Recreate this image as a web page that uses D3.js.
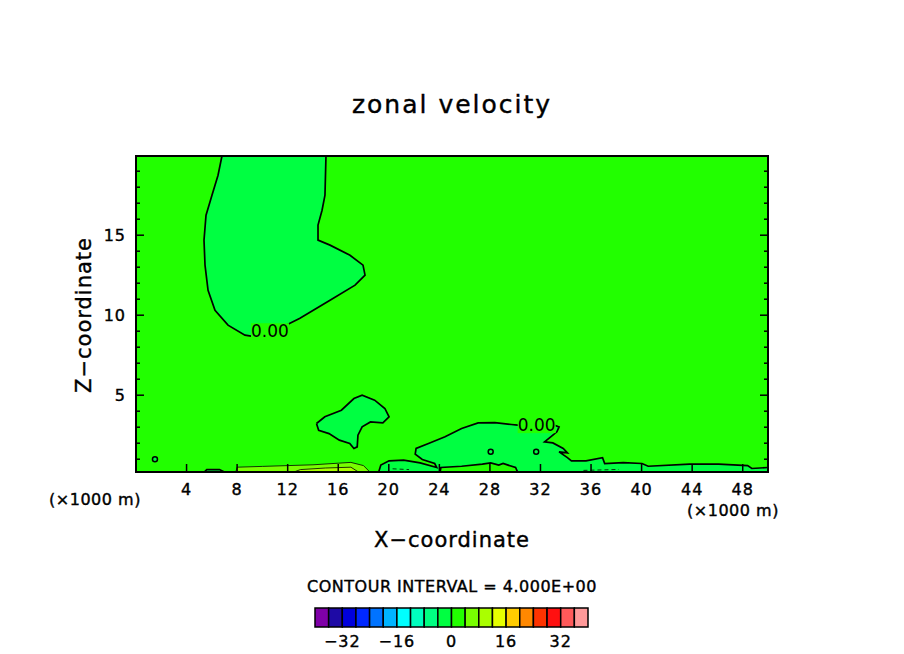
<!DOCTYPE html><html><head><meta charset="utf-8"><script src="https://cdn.jsdelivr.net/npm/d3@7"></script>
<style>body{margin:0;background:#fff}text{font-family:"DejaVu Sans",sans-serif}</style></head><body><svg id="c" width="904" height="654"></svg>
<script>
const xTicks=[4,8,12,16,20,24,28,32,36,40,44,48];
const zTicks=[5,10,15];
const barLevels=d3.range(-40,41,4);
const barColors=["#7f00a8","#1e0aa5","#0000dc","#0028ff","#0073ff","#00b4ff","#00ffff","#00ffbe","#00ff82","#00ff41","#22ff00","#78ff00","#aaff00","#e6ff00","#ffcc00","#ff8800","#ff3300","#ff1010","#ff5a5a","#ff9999"];
const barLabels=[-32,-16,0,16,32];
const upperBlob=[[6.8,19.95],[6.49,18.75],[6.01,17.5],[5.54,16.25],[5.38,14.69],[5.46,13.13],[5.7,11.56],[6.25,10.31],[7.28,9.38],[8.62,8.75],[9.65,8.63],[11.39,9.19],[12.97,9.81],[15.35,10.94],[17.33,11.88],[18.12,12.5],[17.96,13.13],[16.93,13.75],[15.35,14.38],[14.4,14.69],[14.4,15.63],[14.72,16.56],[14.95,17.5],[15.03,19.95]];
const horseshoe=[[14.28,3.23],[14.94,3.65],[16.25,4.06],[17.24,4.79],[17.89,5.0],[18.88,4.69],[19.69,4.17],[20.02,3.65],[19.53,3.27],[18.55,3.33],[17.89,3.02],[17.56,2.5],[17.5,1.77],[17.24,1.67],[16.91,1.98],[16.09,2.19],[15.27,2.6],[14.45,2.81],[14.28,3.23]];
const bottomBlob=[[19.2,0.2],[19.37,0.63],[20.02,0.9],[21.17,0.94],[22.48,0.77],[23.79,0.48],[23.63,0.73],[22.65,0.98],[22.09,1.31],[22.16,1.67],[23.14,1.98],[24.45,2.4],[25.76,2.92],[27.07,3.27],[28.39,3.29],[29.7,3.17],[30.2,3.13],[33.1,3.13],[33.47,3.02],[33.3,2.71],[32.81,2.4],[32.32,2.08],[32.98,2.02],[33.8,1.67],[34.13,1.4],[33.47,1.46],[34.13,1.1],[34.45,0.9],[35.6,0.9],[36.91,1.1],[37.08,0.73],[38.55,0.79],[40.03,0.73],[40.52,0.56],[43.8,0.69],[46.1,0.69],[48.39,0.6],[48.72,0.42],[50,0.48],[50,0.2]];
const innerHump=[[24.06,0.2],[24.12,0.48],[25.76,0.56],[27.4,0.69],[28.06,0.77],[28.7,0.63],[29.04,0.73],[30.03,0.48],[30.19,0.2]];
const leftBump=[[5.4,0.2],[5.6,0.35],[6.6,0.35],[7.0,0.2]];
const yellowStrip=[[7.9,0.2],[8.0,0.5],[10,0.55],[12,0.6],[14,0.65],[16,0.75],[17,0.8],[18,0.6],[18.5,0.2]];
const yellowInner=[[12.5,0.2],[13,0.35],[15,0.45],[17,0.5],[17.6,0.2]];
const dashed1=[[20.3,0.4],[21.6,0.35]], dashed2=[[35.4,0.3],[38.2,0.36]];
const islands=[[28.06,1.46],[31.66,1.46],[1.5,1.0]];
const labels=[[10.6,9.0],[31.7,3.13]];

const svg=d3.select("#c");
const L=136,R=768,T=156,B=472;
const x=d3.scaleLinear().domain([0,50]).range([L,R]);
const z=d3.scaleLinear().domain([0.2,19.95]).range([B,T]);
const line=d3.line().x(d=>x(d[0])).y(d=>z(d[1]));
const g=svg.append("g");
g.append("defs").append("clipPath").attr("id","cp").append("rect").attr("x",L).attr("y",T).attr("width",R-L).attr("height",B-T);
const p=g.append("g").attr("clip-path","url(#cp)");
p.append("rect").attr("x",L).attr("y",T).attr("width",R-L).attr("height",B-T).attr("fill",barColors[10]);
p.append("path").attr("d",line(upperBlob)+"Z").attr("fill",barColors[9]);
p.append("path").attr("d",line(horseshoe)+"Z").attr("fill",barColors[9]);
p.append("path").attr("d",line(bottomBlob)+"Z").attr("fill",barColors[9]);
p.append("path").attr("d",line(innerHump)+"Z").attr("fill",barColors[10]);
p.append("path").attr("d",line(leftBump)+"Z").attr("fill",barColors[9]);
p.append("path").attr("d",line(yellowStrip)+"Z").attr("fill",barColors[11]);
p.append("path").attr("d",line(yellowInner)+"Z").attr("fill",barColors[12]);
[upperBlob,horseshoe,bottomBlob.slice(0,-1),innerHump,leftBump].forEach(a=>p.append("path").attr("d",line(a)).attr("fill","none").attr("stroke","#000").attr("stroke-width",1.7));
[yellowStrip,yellowInner].forEach(a=>p.append("path").attr("d",line(a)).attr("fill","none").attr("stroke","#000").attr("stroke-width",0.8));
[dashed1,dashed2].forEach(a=>p.append("path").attr("d",line(a)).attr("fill","none").attr("stroke","#000").attr("stroke-width",0.8).attr("stroke-dasharray","4,3"));
islands.forEach(d=>p.append("circle").attr("cx",x(d[0])).attr("cy",z(d[1])).attr("r",2.5).attr("fill",barColors[9]).attr("stroke","#000").attr("stroke-width",1.5));
labels.forEach(d=>{p.append("rect").attr("x",x(d[0])-19).attr("y",z(d[1])-8).attr("width",38).attr("height",16).attr("fill",barColors[10]);
 p.append("text").attr("x",x(d[0])).attr("y",z(d[1])+6).attr("text-anchor","middle").attr("font-size",17).text("0.00");});
g.append("rect").attr("x",L).attr("y",T).attr("width",R-L).attr("height",B-T).attr("fill","none").attr("stroke","#000").attr("stroke-width",2);
const ax=g.append("g").attr("stroke","#000").attr("stroke-width",1.5);
xTicks.forEach(v=>ax.append("line").attr("x1",x(v)).attr("x2",x(v)).attr("y1",B).attr("y2",B-8));
d3.range(1,20).forEach(v=>{const len=zTicks.includes(v)?8:4;
 ax.append("line").attr("x1",L).attr("x2",L+len).attr("y1",z(v)).attr("y2",z(v));
 ax.append("line").attr("x1",R).attr("x2",R-len).attr("y1",z(v)).attr("y2",z(v));});
const t=(xx,yy,s,txt,extra)=>{const e=g.append("text").attr("x",xx).attr("y",yy).attr("text-anchor","middle").attr("font-size",s).attr("stroke","#000").attr("stroke-width",0.4).text(txt);return e;};
xTicks.forEach(v=>t(x(v),B+23,16,v).attr("letter-spacing",1));
zTicks.forEach(v=>t(L-10,z(v)+6,16,v).attr("text-anchor","end").attr("letter-spacing",1));
t(95,505,16,"(×1000 m)").attr("letter-spacing",0.5);
t(733,516,16,"(×1000 m)").attr("letter-spacing",0.5);
t(452,113,25,"zonal velocity").attr("letter-spacing",2);
t(452,547,21,"X−coordinate").attr("letter-spacing",1);
t(0,0,21,"Z−coordinate").attr("x",null).attr("y",null).attr("transform","translate(91,315) rotate(-90)").attr("letter-spacing",1);
t(452,592,16,"CONTOUR INTERVAL = 4.000E+00").attr("letter-spacing",0.5);
const cb=d3.scaleLinear().domain([-40,40]).range([315,588]);
barColors.forEach((c,i)=>g.append("rect").attr("x",cb(barLevels[i])).attr("y",608).attr("width",cb(barLevels[i+1])-cb(barLevels[i])).attr("height",19).attr("fill",c).attr("stroke","#000").attr("stroke-width",1.5));
barLabels.forEach(v=>t(cb(v),647,16,v<0?"−"+(-v):v).attr("letter-spacing",1));
</script></body></html>
